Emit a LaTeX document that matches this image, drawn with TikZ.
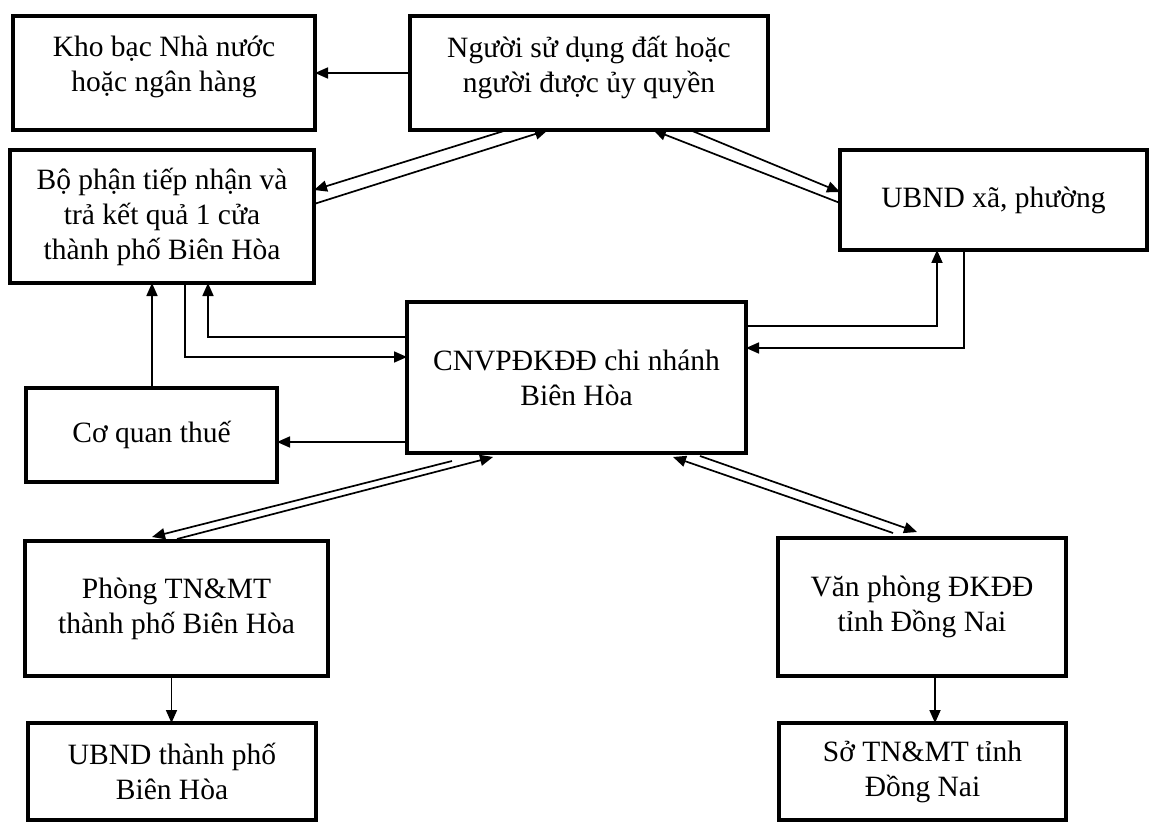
\documentclass[tikz,border=0pt]{standalone}
\usepackage{fontspec}
\setmainfont{Liberation Serif}
\usetikzlibrary{arrows.meta,calc}
\begin{document}
\begin{tikzpicture}[x=1pt,y=-1pt,
  box/.style={draw,line width=4.5pt,rectangle,align=center,
    font=\fontsize{29.5}{35}\selectfont,inner sep=0pt,outer sep=0pt},
  raised/.style={text depth=18pt},
  conn/.style={line width=1.7pt,-{Triangle[length=13pt,width=11pt]}}]
\useasboundingbox (0,0) rectangle (1164,826);
\fill[white] (0,0) rectangle (1164,826);

\node[box,raised,minimum width=302pt,minimum height=114pt] (kho) at (164,73) {Kho bạc Nhà nước\\hoặc ngân hàng};
\node[box,raised,minimum width=358pt,minimum height=114pt] (nguoi) at (589,73) {Người sử dụng đất hoặc\\người được ủy quyền};
\node[box,minimum width=304pt,minimum height=133pt] (bophan) at (162,216.5) {Bộ phận tiếp nhận và\\trả kết quả 1 cửa\\thành phố Biên Hòa};
\node[box,minimum width=307pt,minimum height=100pt] (ubndxa) at (993.5,200) {UBND xã, phường};
\node[box,minimum width=339pt,minimum height=151pt] (cnvp) at (576.5,377.5) {CNVPĐKĐĐ chi nhánh\\Biên Hòa};
\node[box,minimum width=251pt,minimum height=94pt] (thue) at (151.5,435) {Cơ quan thuế};
\node[box,minimum width=303pt,minimum height=135pt] (phong) at (176.5,608.5) {Phòng TN\&MT\\thành phố Biên Hòa};
\node[box,minimum width=288pt,minimum height=97pt] (ubndtp) at (172,771.5) {UBND thành phố\\Biên Hòa};
\node[box,minimum width=288pt,minimum height=138pt] (vanphong) at (922,607) {Văn phòng ĐKĐĐ\\tỉnh Đồng Nai};
\node[box,minimum width=287pt,minimum height=97pt] (so) at (922.5,771.5) {Sở TN\&MT tỉnh\\Đồng Nai};

% top row
\draw[conn] (nguoi.west |- kho.east) -- (kho.east);
\draw[conn] ([xshift=97pt]nguoi.south west) -- ([yshift=-40pt]bophan.north east);
\draw[conn] ([yshift=-54pt]bophan.north east) -- ([xshift=138pt]nguoi.south west);
\draw[conn] ([yshift=-53pt]ubndxa.north west) -- ([xshift=243pt]nguoi.south west);
\draw[conn] ([xshift=280pt]nguoi.south west) -- ([yshift=-42pt]ubndxa.north west);

% bophan <-> cnvp
\draw[conn] ([xshift=175pt]bophan.south west) |- ([yshift=-55pt]cnvp.north west);
\draw[conn] ([yshift=-35pt]cnvp.north west) -| ([xshift=198pt]bophan.south west);

% cnvp <-> ubndxa
\draw[conn] ([yshift=-24pt]cnvp.north east) -| ([xshift=97pt]ubndxa.south west);
\draw[conn] ([xshift=124pt]ubndxa.south west) |- ([yshift=-46pt]cnvp.north east);

% thue
\coordinate (t1) at ([xshift=126pt]thue.north west);
\draw[conn] (t1) -- (t1 |- bophan.south);
\coordinate (t2) at ([yshift=-7pt]thue.east);
\draw[conn] (cnvp.west |- t2) -- (t2);

% cnvp <-> phong
\draw[conn] ([xshift=45pt,yshift=-8pt]cnvp.south west) -- ([xshift=127pt,yshift=4pt]phong.north west);
\draw[conn] ([xshift=152pt,yshift=2pt]phong.north west) -- ([xshift=86pt,yshift=-4pt]cnvp.south west);

% cnvp <-> vanphong
\draw[conn] ([xshift=115pt,yshift=5pt]vanphong.north west) -- ([xshift=-73pt,yshift=-4pt]cnvp.south east);
\draw[conn] ([xshift=-46pt,yshift=-3pt]cnvp.south east) -- ([xshift=139pt,yshift=6pt]vanphong.north west);

% bottom
\coordinate (p1) at ([xshift=-5pt]phong.south);
\draw[conn] (p1) -- (p1 |- ubndtp.north);
\coordinate (v1) at ([xshift=13pt]vanphong.south);
\draw[conn] (v1) -- (v1 |- so.north);
\end{tikzpicture}
\end{document}
